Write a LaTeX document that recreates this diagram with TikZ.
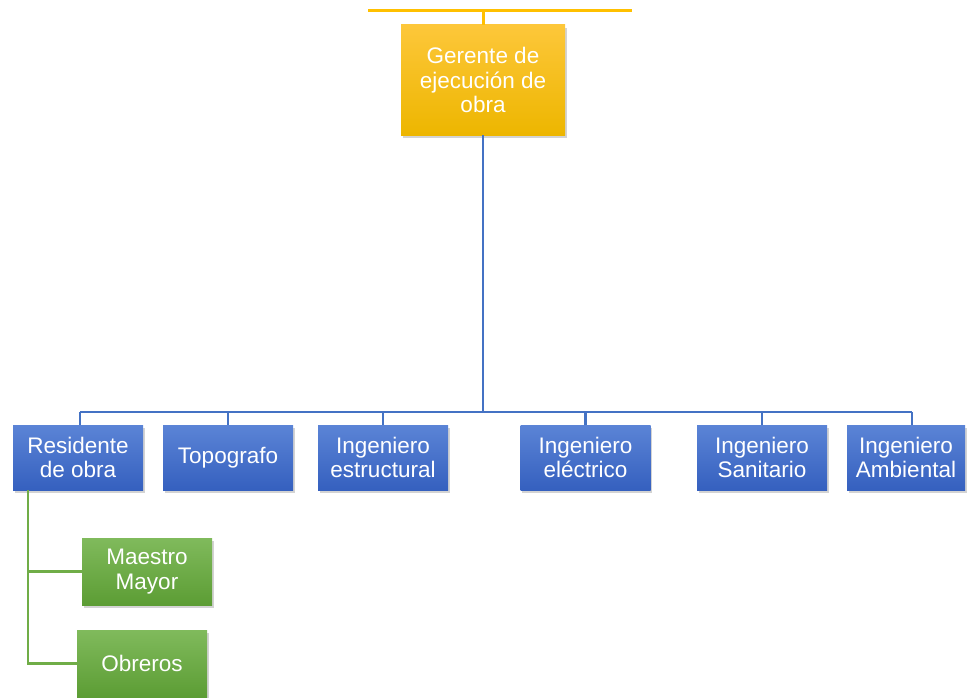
\documentclass[tikz,border=0pt]{standalone}
\usepackage{fontspec}
\setmainfont{Liberation Sans}
\usetikzlibrary{shadows}
\definecolor{ytop}{HTML}{FDC73A}
\definecolor{ybot}{HTML}{EDB600}
\definecolor{btop}{HTML}{5B84D6}
\definecolor{bbot}{HTML}{3560BF}
\definecolor{gtop}{HTML}{80BA5C}
\definecolor{gbot}{HTML}{5C9D34}
\definecolor{bline}{HTML}{4472C4}
\definecolor{gline}{HTML}{70AD47}
\definecolor{yline}{HTML}{FFC000}
\tikzset{
  box/.style={rectangle, inner sep=0pt, align=center, text=white,
    font=\fontsize{22.5}{24.5}\selectfont,
    drop shadow={shadow xshift=1.5pt, shadow yshift=-3pt, opacity=0.35}},
  ybox/.style={box, top color=ytop, bottom color=ybot, minimum width=164pt, minimum height=110pt},
  bbox/.style={box, top color=btop, bottom color=bbot, minimum width=130pt, minimum height=65pt},
  gbox/.style={box, top color=gtop, bottom color=gbot, minimum width=130pt, minimum height=67pt},
  bconn/.style={draw=bline, line width=2.2pt},
  gconn/.style={draw=gline, line width=2.2pt},
  yconn/.style={draw=yline, line width=3pt},
}
\begin{document}
\begin{tikzpicture}[x=1pt,y=-1pt]
\useasboundingbox (0,0) rectangle (971,698);
% top yellow bar
\coordinate (yl) at (368,11);
\coordinate (yr) at (632,11);
\coordinate (ym) at (483,11);
% bar level
\coordinate (barL) at (80,412);
\coordinate (barR) at (912,412);
% nodes
\node[ybox] (ger) at (483,80) {Gerente de\\ejecución de\\obra};
\node[bbox] (res) at (78,457.5) {Residente\\de obra};
\node[bbox] (top) at (228,457.5) {Topografo};
\node[bbox] (est) at (383,457.5) {Ingeniero\\estructural};
\node[bbox] (ele) at (585.5,457.5) {Ingeniero\\eléctrico};
\node[bbox] (san) at (762,457.5) {Ingeniero\\Sanitario};
\node[bbox, minimum width=118pt] (amb) at (906,457.5) {Ingeniero\\Ambiental};
\node[gbox] (mae) at (147,571.5) {Maestro\\Mayor};
\node[gbox] (obr) at (142,663.5) {Obreros};
% connectors
\draw[yconn] (yl) -- (yr);
\draw[yconn] (ym) -- (ger.north);
\draw[bconn] (ger.south) -- (ger.south |- barL);
\draw[bconn] (barL) -- (barR);
\draw[bconn] (barL) -- (res.north -| barL);
\draw[bconn] (top.north |- barL) -- (top.north);
\draw[bconn] (est.north |- barL) -- (est.north);
\draw[bconn] (ele.north |- barL) -- (ele.north);
\draw[bconn] (san.north |- barL) -- (san.north);
\draw[bconn] (barR) -- (barR |- amb.north);
\coordinate (gv) at (28,490);
\draw[gconn] (res.south -| gv) |- (obr.west);
\draw[gconn] (gv |- mae.west) -- (mae.west);
\end{tikzpicture}
\end{document}
